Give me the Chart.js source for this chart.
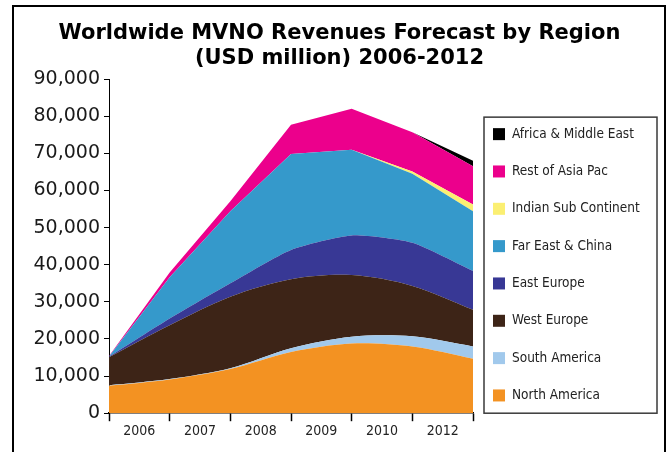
<!DOCTYPE html>
<html>
<head>
<meta charset="utf-8">
<title>Worldwide MVNO Revenues Forecast by Region</title>
<script src="https://cdn.jsdelivr.net/npm/chart.js@4/dist/chart.umd.min.js"></script>
<style>
    html, body { margin: 0; padding: 0; background: #fff; overflow: hidden; }
    #frame {
        position: absolute; left: 12px; top: 5px;
        width: 650px; height: 470px;
        border: 2px solid #000;
    }
    #wrap { position: absolute; left: 0; top: 0; width: 669px; height: 452px; }
</style>
</head>
<body>
<div id="frame"></div>
<div id="wrap"><canvas id="mvno-chart" width="669" height="452"></canvas></div>
<script>
// Data points sit on the year boundaries; labels sit between them (as in the source)
const years = [2006, 2007, 2008, 2009, 2010, 2011, 2012];
const yearLabels = ['2006', '2007', '2008', '2009', '2010', '2012'];

// USD million, stacked bottom to top
const northAmerica = [7400, 9100, 11900, 16500, 18800, 18000, 14700];
const southAmerica = [100, 100, 200, 1000, 1800, 2700, 3300];
const westEurope = [7600, 14500, 19300, 18600, 16600, 13600, 9900];
const eastEurope = [100, 1800, 3600, 7900, 10700, 11600, 10400];
const farEastChina = [100, 11100, 19400, 25800, 23100, 18600, 16100];
const indianSub = [0, 0, 0, 0, 0, 600, 1800];
const restOfAsiaPac = [100, 1300, 2700, 7900, 11000, 10600, 10300];
const africaMiddleEast = [0, 0, 0, 0, 0, 0, 1500];

function toPoints(values) {
    return values.map((v, i) => ({ x: years[i], y: v }));
}

function area(label, values, color, tension) {
    return {
        label: label,
        data: toPoints(values),
        backgroundColor: color,
        borderColor: 'transparent',
        borderWidth: 0,
        pointRadius: 0,
        tension: tension,
        fill: '-1'
    };
}

const datasets = [
    area('North America', northAmerica, '#f39222', 0.3),
    area('South America', southAmerica, '#a1c9ec', 0.3),
    area('West Europe', westEurope, '#3d2417', 0.3),
    area('East Europe', eastEurope, '#383895', 0.2),
    area('Far East & China', farEastChina, '#3599cb', 0),
    area('Indian Sub Continent', indianSub, '#fbef72', 0),
    area('Rest of Asia Pac', restOfAsiaPac, '#ec008c', 0),
    area('Africa & Middle East', africaMiddleEast, '#000000', 0)
];
datasets[0].fill = 'origin';

// Ticks on every year boundary plus half steps for the labels
const xTicks = [];
for (let v = years[0]; v <= years[years.length - 1]; v += 0.5) xTicks.push(v);

// Boxed legend on the right, drawn over the reserved space
const legendBox = {
    id: 'legendBox',
    afterDraw(chart) {
        const { ctx, chartArea } = chart;
        const left = chartArea.right + 11;
        const top = chartArea.top + 38;
        const right = chartArea.right + 184;
        const bottom = chartArea.bottom;
        ctx.save();
        ctx.strokeStyle = '#3a3a3a';
        ctx.lineWidth = 1.5;
        ctx.strokeRect(left, top, right - left, bottom - top);
        ctx.font = '13.5px "DejaVu Sans Condensed", "DejaVu Sans", sans-serif';
        ctx.textBaseline = 'middle';
        ctx.textAlign = 'left';
        chart.data.datasets.slice().reverse().forEach((ds, i) => {
            const cy = top + 17 + i * 37.33;
            ctx.fillStyle = ds.backgroundColor;
            ctx.fillRect(left + 9, cy - 6, 12, 12);
            ctx.fillStyle = '#222';
            ctx.fillText(ds.label, left + 28, cy);
        });
        ctx.restore();
    }
};

new Chart(document.getElementById('mvno-chart').getContext('2d'), {
    type: 'line',
    data: { datasets: datasets },
    plugins: [legendBox],
    options: {
        responsive: false,
        animation: false,
        layout: { padding: { left: 13, right: 3, top: 0, bottom: 10 } },
        plugins: {
            legend: { display: false },
            tooltip: { enabled: false },
            title: {
                display: true,
                text: ['Worldwide MVNO Revenues Forecast by Region', '(USD million) 2006-2012'],
                color: '#000',
                font: { family: '"DejaVu Sans", Verdana, sans-serif', size: 21, weight: 'bold', lineHeight: 1.17 },
                padding: { top: 21.5, bottom: 8.5 }
            }
        },
        scales: {
            x: {
                type: 'linear',
                min: years[0],
                max: years[years.length - 1],
                afterBuildTicks: (scale) => {
                    scale.ticks = xTicks.map(v => ({ value: v }));
                },
                ticks: {
                    autoSkip: false,
                    maxRotation: 0,
                    padding: 2,
                    color: '#222',
                    font: { family: '"DejaVu Sans Condensed", "DejaVu Sans", sans-serif', size: 14 },
                    callback: (v) => Number.isInteger(v) ? '' : yearLabels[Math.floor(v) - years[0]]
                },
                grid: {
                    drawOnChartArea: false,
                    tickLength: 8,
                    tickWidth: 1.5,
                    tickColor: (ctx) => (ctx.tick && Number.isInteger(ctx.tick.value)) ? '#000' : 'transparent'
                },
                border: { color: '#000', width: 1.5 }
            },
            y: {
                stacked: true,
                min: 0,
                max: 90000,
                afterFit: (scale) => { scale.width = 96; },
                ticks: {
                    stepSize: 10000,
                    padding: 4,
                    color: '#1a1a1a',
                    font: { family: '"DejaVu Sans", Verdana, sans-serif', size: 19 },
                    callback: (v) => v.toLocaleString('en-US')
                },
                grid: { drawOnChartArea: false, tickLength: 5, tickColor: '#000' },
                border: { color: '#000', width: 1 }
            },
            legendSpace: {
                type: 'linear',
                position: 'right',
                afterFit: (scale) => { scale.width = 193; },
                ticks: { display: false },
                grid: { display: false },
                border: { display: false }
            }
        }
    }
});
</script>
</body>
</html>
